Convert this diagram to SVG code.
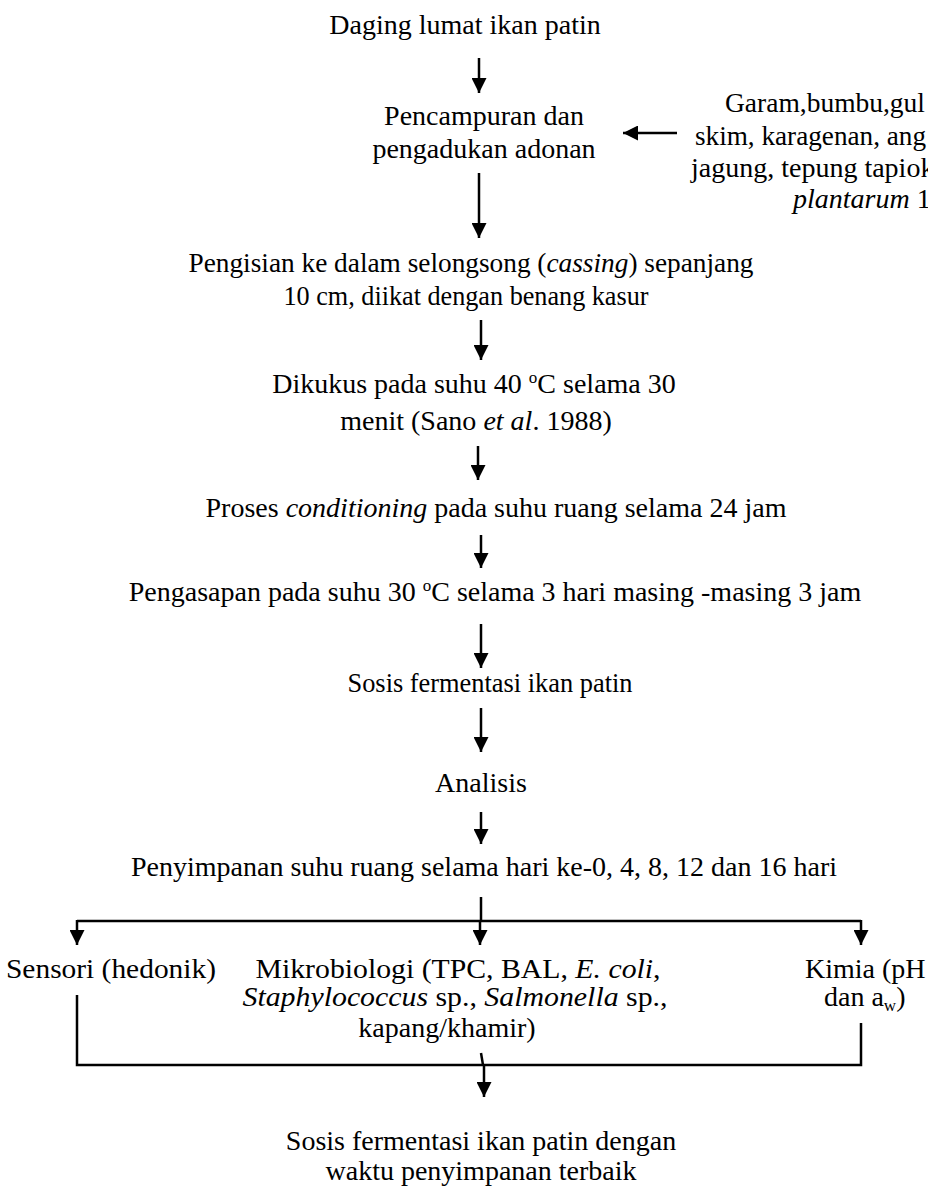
<svg xmlns="http://www.w3.org/2000/svg" width="928" height="1187" viewBox="0 0 928 1187">
<defs>
<style>
text{font-family:"Liberation Serif","Times New Roman",serif;font-size:28px;fill:#000}
.c{text-anchor:middle}
.i{font-style:italic}
.sup{font-size:17px}
.ln{stroke:#000;stroke-width:2.5;fill:none}
</style>
<marker id="ah" markerUnits="userSpaceOnUse" markerWidth="15" markerHeight="15" refX="15" refY="7.5" orient="auto" viewBox="0 0 15 15">
<path d="M0,0 L15,7.5 L0,15 z" fill="#000"/>
</marker>
</defs>
<rect width="928" height="1187" fill="#fff"/>
<g id="connectors">
<line class="ln" x1="479" y1="58" x2="479" y2="93" marker-end="url(#ah)"/>
<line class="ln" x1="677" y1="133" x2="623" y2="133" marker-end="url(#ah)"/>
<line class="ln" x1="479" y1="173" x2="479" y2="238" marker-end="url(#ah)"/>
<line class="ln" x1="481" y1="320" x2="481" y2="360" marker-end="url(#ah)"/>
<line class="ln" x1="478" y1="446" x2="478" y2="480" marker-end="url(#ah)"/>
<line class="ln" x1="481" y1="535" x2="481" y2="568" marker-end="url(#ah)"/>
<line class="ln" x1="481" y1="624" x2="481" y2="668" marker-end="url(#ah)"/>
<line class="ln" x1="481" y1="708" x2="481" y2="752" marker-end="url(#ah)"/>
<line class="ln" x1="481" y1="812" x2="481" y2="844" marker-end="url(#ah)"/>
<line class="ln" x1="481" y1="897" x2="481" y2="921"/>
<line class="ln" x1="77" y1="921" x2="861" y2="921"/>
<line class="ln" x1="77" y1="920" x2="77" y2="945" marker-end="url(#ah)"/>
<line class="ln" x1="480" y1="920" x2="480" y2="945" marker-end="url(#ah)"/>
<line class="ln" x1="861" y1="920" x2="861" y2="945" marker-end="url(#ah)"/>
<polyline class="ln" points="77,995 77,1065 861,1065 861,1023"/>
<line class="ln" x1="481" y1="1053" x2="483" y2="1065"/>
<line class="ln" x1="484" y1="1065" x2="484" y2="1097" marker-end="url(#ah)"/>
</g>
<g id="n1"><text class="c" x="465" y="34">Daging lumat ikan patin</text></g>
<g id="n2"><text class="c" x="484" y="125">Pencampuran dan</text><text class="c" x="484" y="158">pengadukan adonan</text></g>
<g id="n3">
<text x="725" y="112" textLength="200" lengthAdjust="spacingAndGlyphs">Garam,bumbu,gul</text>
<text x="695" y="145" textLength="231" lengthAdjust="spacingAndGlyphs">skim, karagenan, ang</text>
<text x="691" y="177">jagung, tepung tapiok</text>
<text x="793" y="208"><tspan class="i">plantarum</tspan> 1</text>
</g>
<g id="n4"><text class="c" x="471" y="272" textLength="565" lengthAdjust="spacingAndGlyphs">Pengisian ke dalam selongsong (<tspan class="i">cassing</tspan>) sepanjang</text><text class="c" x="466" y="305" textLength="365" lengthAdjust="spacingAndGlyphs">10 cm, diikat dengan benang kasur</text></g>
<g id="n5"><text class="c" x="474" y="393">Dikukus pada  suhu 40 <tspan class="sup" dy="-10">o</tspan><tspan dy="10">C selama 30</tspan></text><text class="c" x="476" y="430">menit (Sano <tspan class="i">et al</tspan>. 1988)</text></g>
<g id="n6"><text class="c" x="496" y="517">Proses <tspan class="i">conditioning</tspan> pada suhu ruang  selama 24 jam</text></g>
<g id="n7"><text class="c" x="495" y="601">Pengasapan pada suhu 30 <tspan class="sup" dy="-10">o</tspan><tspan dy="10">C selama 3 hari masing -masing 3 jam</tspan></text></g>
<g id="n8"><text class="c" x="490" y="692" textLength="285" lengthAdjust="spacingAndGlyphs">Sosis fermentasi ikan patin</text></g>
<g id="n9"><text class="c" x="481" y="792">Analisis</text></g>
<g id="n10"><text class="c" x="484" y="876">Penyimpanan suhu  ruang selama hari ke-0, 4, 8, 12 dan 16 hari</text></g>
<g id="n11"><text x="6" y="978" textLength="210" lengthAdjust="spacingAndGlyphs">Sensori (hedonik)</text></g>
<g id="n12"><text class="c" x="458" y="978" textLength="405" lengthAdjust="spacingAndGlyphs">Mikrobiologi (TPC, BAL, <tspan class="i">E. coli</tspan>,</text><text class="c" x="455" y="1006" textLength="425" lengthAdjust="spacingAndGlyphs"><tspan class="i">Staphylococcus</tspan> sp., <tspan class="i">Salmonella</tspan> sp.,</text><text class="c" x="447" y="1037">kapang/khamir)</text></g>
<g id="n13"><text x="805" y="978">Kimia (pH</text><text x="824" y="1006">dan a<tspan class="sup" dy="5">w</tspan><tspan dy="-5">)</tspan></text></g>
<g id="n14"><text class="c" x="481" y="1150">Sosis fermentasi ikan patin dengan</text><text class="c" x="481" y="1180">waktu penyimpanan terbaik</text></g>
</svg>
